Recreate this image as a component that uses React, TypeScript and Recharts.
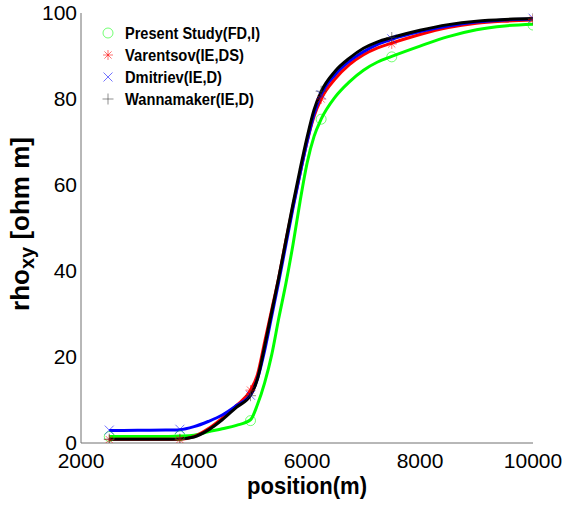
import React from 'react';
import { ComposedChart, Line, Scatter, XAxis, YAxis, Legend } from 'recharts';

const positions = [2500, 3000, 3500, 3750, 4000, 4250, 4500, 4750, 5000, 5125, 5250, 5375, 5500, 5625, 5750, 5875, 6000, 6125, 6250, 6500, 6750, 7000, 7250, 7500, 8000, 8500, 9000, 9500, 10000];
const presentStudy = [1.5, 1.5, 1.5, 1.6, 1.8, 2.6, 3.3, 4.1, 5.4, 9, 14, 20.5, 29, 37, 46, 56, 65, 71.3, 75.3, 80.5, 84, 86.7, 88.6, 89.9, 92.3, 94.5, 96.1, 97, 97.4];
const varentsov = [0.9, 0.9, 0.9, 0.9, 1.5, 3.3, 5.8, 8.7, 12.3, 16, 23.5, 31, 38.5, 47, 55, 62.5, 70, 76, 80, 84.7, 88, 90.3, 91.9, 93, 95, 96.6, 97.6, 98.1, 98.4];
const dmitriev = [2.9, 2.95, 3.0, 3.1, 3.8, 5.0, 6.5, 8.7, 11.2, 15, 21.5, 29.5, 37.5, 46, 54.5, 62.5, 70, 76.5, 81, 85.7, 88.8, 91, 92.7, 93.9, 95.7, 97, 97.9, 98.4, 98.6];
const wannamaker = [0.9, 0.9, 0.9, 0.95, 1.4, 3.0, 5.4, 8.3, 11.1, 15, 22.5, 30.5, 38.5, 47, 55.5, 63.5, 71, 77.5, 81.7, 86.5, 89.5, 91.8, 93.3, 94.3, 96, 97.3, 98.1, 98.5, 98.7];

const markerPositions = [2500, 3750, 5000, 6250, 7500, 10000];
const presentMarkers = [1.5, 1.7, 5.2, 75.3, 89.8, 97.2];
const varentsovMarkers = [0.8, 0.8, 12.3, 80.0, 92.8, 98.5];
const dmitrievMarkers = [3.0, 3.2, 11.1, 81.0, 94.0, 98.8];
const wannamakerMarkers = [0.9, 0.9, 11.0, 81.8, 94.3, 98.7];

const xTicks = [2000, 4000, 6000, 8000, 10000];
const yTicks = [0, 20, 40, 60, 80, 100];
const yMinorTicks = [0, 4, 8, 12, 16, 20, 24, 28, 32, 36, 40, 44, 48, 52, 56, 60, 64, 68, 72, 76, 80, 84, 88, 92, 96, 100];

const seriesNames = ['Present Study(FD,I)', 'Varentsov(IE,DS)', 'Dmitriev(IE,D)', 'Wannamaker(IE,D)'];
const legendWidths = [135, 119, 97, 129];

const lineRows = positions.map((x, i) => ({ x, g: presentStudy[i], r: varentsov[i], b: dmitriev[i], k: wannamaker[i] }));
const markerRows = markerPositions.map((x, i) => ({ x, g: presentMarkers[i], r: varentsovMarkers[i], b: dmitrievMarkers[i], k: wannamakerMarkers[i] }));

const AX = '#707070';
const FONT = '"Liberation Sans", Arial, sans-serif';
const GREEN = '#00ff00';
const RED = '#ff0000';
const BLUE = '#0000ff';
const BLACK = '#000000';
const MK_OP = 0.55;

const Circle = (cx: number, cy: number, c: string) => (
  <circle cx={cx} cy={cy} r={5} fill="none" stroke={c} strokeWidth={1} strokeOpacity={MK_OP} />
);
const Star = (cx: number, cy: number, c: string) => (
  <g stroke={c} strokeWidth={1} strokeOpacity={MK_OP}>
    <line x1={cx - 5} y1={cy} x2={cx + 5} y2={cy} />
    <line x1={cx} y1={cy - 5} x2={cx} y2={cy + 5} />
    <line x1={cx - 3.6} y1={cy - 3.6} x2={cx + 3.6} y2={cy + 3.6} />
    <line x1={cx - 3.6} y1={cy + 3.6} x2={cx + 3.6} y2={cy - 3.6} />
  </g>
);
const Cross = (cx: number, cy: number, c: string) => (
  <g stroke={c} strokeWidth={1} strokeOpacity={MK_OP}>
    <line x1={cx - 4.5} y1={cy - 4.5} x2={cx + 4.5} y2={cy + 4.5} />
    <line x1={cx - 4.5} y1={cy + 4.5} x2={cx + 4.5} y2={cy - 4.5} />
  </g>
);
const Plus = (cx: number, cy: number, c: string) => (
  <g stroke={c} strokeWidth={1} strokeOpacity={MK_OP}>
    <line x1={cx - 5.5} y1={cy} x2={cx + 5.5} y2={cy} />
    <line x1={cx} y1={cy - 5.5} x2={cx} y2={cy + 5.5} />
  </g>
);

const symbols = [Circle, Star, Cross, Plus];
const colors = [GREEN, RED, BLUE, BLACK];

const renderLegend = () => (
  <svg width={230} height={100} style={{ display: 'block' }}>
    {seriesNames.map((name, i) => {
      const cy = 13 + i * 22;
      return (
        <g key={name}>
          {symbols[i](13, cy, i === 3 ? '#333' : colors[i])}
          <text x={30} y={cy + 6} fontFamily={FONT} fontWeight="bold" fontSize={16} fill="#000" textLength={legendWidths[i]} lengthAdjust="spacingAndGlyphs">
            {name}
          </text>
        </g>
      );
    })}
  </svg>
);

const XTitle = (props: any) => {
  const vb = props.viewBox || { x: 81, y: 443, width: 452, height: 63 };
  return (
    <text x={vb.x + vb.width / 2} y={vb.y + 51} textAnchor="middle" fontFamily={FONT} fontWeight="bold" fontSize={24} fill="#000" textLength={120} lengthAdjust="spacingAndGlyphs">
      position(m)
    </text>
  );
};

const YTitle = (props: any) => {
  const vb = props.viewBox || { x: 0, y: 13, width: 81, height: 430 };
  const cx = 29;
  const cy = vb.y + vb.height / 2 - 4;
  return (
    <text x={cx} y={cy} transform={`rotate(-90 ${cx} ${cy})`} textAnchor="middle" fontFamily={FONT} fontWeight="bold" fontSize={26} fill="#000">
      rho
      <tspan dy={5} fontSize={20}>xy</tspan>
      <tspan dy={-5}> [ohm m]</tspan>
    </text>
  );
};

const EmptyTick = () => <g />;

const mk = (fn: (cx: number, cy: number, c: string) => any, c: string) => (p: any) => {
  if (p == null || p.cx == null || p.cy == null) return <g />;
  return fn(p.cx, p.cy, c);
};

export default function App() {
  return (
    <div style={{ position: 'absolute', left: 0, top: 0, width: 563, height: 506, background: '#fff' }}>
      <ComposedChart width={563} height={506} data={lineRows} margin={{ top: 13, right: 30, bottom: 0, left: 0 }}>
        <XAxis
          xAxisId="x"
          dataKey="x"
          type="number"
          domain={[2000, 10000]}
          ticks={xTicks}
          allowDataOverflow
          tickLine={false}
          tickSize={0}
          tickMargin={10.5}
          axisLine={{ stroke: AX }}
          tick={{ fontSize: 21, fill: '#000', fontFamily: FONT }}
          height={63}
          label={{ content: XTitle }}
        />
        <XAxis xAxisId="xb" type="number" domain={[2000, 10000]} ticks={xTicks} allowDataOverflow mirror tick={EmptyTick} tickSize={5} tickLine={{ stroke: AX }} axisLine={false} orientation="bottom" height={0} />
        <XAxis xAxisId="xt" type="number" domain={[2000, 10000]} ticks={xTicks} allowDataOverflow mirror tick={EmptyTick} tickSize={5} tickLine={{ stroke: AX }} axisLine={{ stroke: AX }} orientation="top" height={0} />
        <YAxis
          yAxisId="y"
          type="number"
          domain={[0, 100]}
          ticks={yTicks}
          allowDataOverflow
          tickLine={false}
          tickSize={0}
          tickMargin={4}
          axisLine={{ stroke: AX }}
          tick={{ fontSize: 21, fill: '#000', fontFamily: FONT }}
          width={81}
          label={{ content: YTitle }}
        />
        <YAxis yAxisId="yl1" type="number" domain={[0, 100]} ticks={yMinorTicks} allowDataOverflow mirror tick={EmptyTick} tickSize={3} tickLine={{ stroke: AX }} axisLine={false} width={0} />
        <YAxis yAxisId="yl2" type="number" domain={[0, 100]} ticks={yTicks} allowDataOverflow mirror tick={EmptyTick} tickSize={5} tickLine={{ stroke: AX }} axisLine={false} width={0} />
        <YAxis yAxisId="yr1" type="number" domain={[0, 100]} ticks={yMinorTicks} allowDataOverflow mirror tick={EmptyTick} tickSize={3} tickLine={{ stroke: AX }} axisLine={{ stroke: AX }} orientation="right" width={0} />
        <YAxis yAxisId="yr2" type="number" domain={[0, 100]} ticks={yTicks} allowDataOverflow mirror tick={EmptyTick} tickSize={5} tickLine={{ stroke: AX }} axisLine={false} orientation="right" width={0} />

        <Line xAxisId="x" yAxisId="y" type="monotone" dataKey="g" stroke={GREEN} strokeWidth={3} dot={false} activeDot={false} isAnimationActive={false} legendType="none" />
        <Line xAxisId="x" yAxisId="y" type="monotone" dataKey="r" stroke={RED} strokeWidth={3} dot={false} activeDot={false} isAnimationActive={false} legendType="none" />
        <Line xAxisId="x" yAxisId="y" type="monotone" dataKey="b" stroke={BLUE} strokeWidth={3} dot={false} activeDot={false} isAnimationActive={false} legendType="none" />
        <Line xAxisId="x" yAxisId="y" type="monotone" dataKey="k" stroke={BLACK} strokeWidth={3} dot={false} activeDot={false} isAnimationActive={false} legendType="none" />

        <Scatter xAxisId="x" yAxisId="y" data={markerRows} dataKey="g" shape={mk(Circle, GREEN)} isAnimationActive={false} />
        <Scatter xAxisId="x" yAxisId="y" data={markerRows} dataKey="r" shape={mk(Star, RED)} isAnimationActive={false} />
        <Scatter xAxisId="x" yAxisId="y" data={markerRows} dataKey="b" shape={mk(Cross, BLUE)} isAnimationActive={false} />
        <Scatter xAxisId="x" yAxisId="y" data={markerRows} dataKey="k" shape={mk(Plus, '#333')} isAnimationActive={false} />

        <Legend content={renderLegend} layout="vertical" align="center" verticalAlign="middle" wrapperStyle={{ position: 'absolute', left: 95, top: 20, width: 230, height: 100 }} />
      </ComposedChart>
    </div>
  );
}
